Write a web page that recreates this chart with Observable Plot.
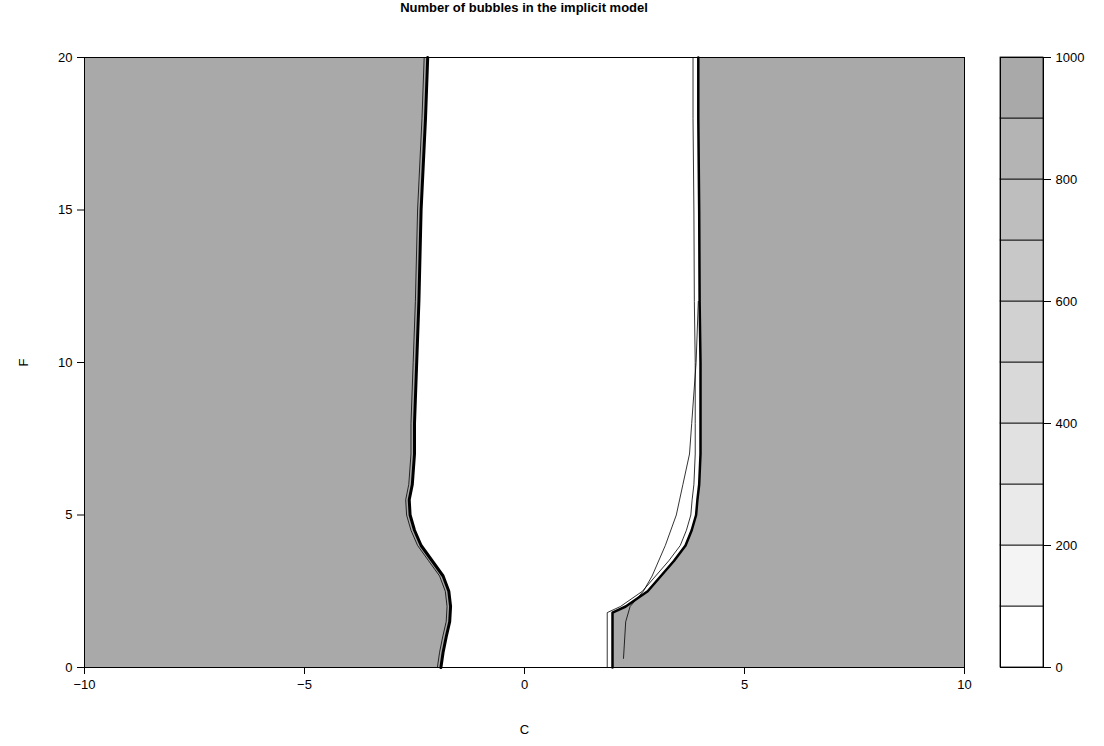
<!DOCTYPE html>
<html><head><meta charset="utf-8">
<script src="https://cdn.jsdelivr.net/npm/d3@7"></script>
<script src="https://cdn.jsdelivr.net/npm/@observablehq/plot@0.6"></script>
<style>
body{margin:0;background:#fff;font-family:"Liberation Sans",Arial,sans-serif}
#wrap{position:relative;width:1104px;height:746px}
#wrap>div{position:absolute;top:0}
#title{position:absolute;top:10px;left:0;width:1048px;text-align:center;font-weight:bold;font-size:13px}
svg text{font-size:13px !important}
</style></head><body>
<div id="wrap"><div id="main" style="left:0"></div><div id="leg" style="left:990px"></div><div id="title">Number of bubbles in the implicit model</div></div>
<script>
// left boundary of the white region (F, C)
const leftF = [0, 0.5, 1, 1.5, 2, 2.5, 3, 3.5, 4, 4.5, 5, 5.5, 6, 7, 8, 10, 12, 15, 18, 20]
const leftC = [-1.9, -1.85, -1.78, -1.7, -1.68, -1.72, -1.85, -2.1, -2.35, -2.5, -2.6, -2.62, -2.55, -2.5, -2.5, -2.45, -2.4, -2.35, -2.25, -2.2]
// right boundary (dense gray side)
const rightF = [0, 1, 1.8, 2, 2.5, 3, 3.5, 4, 4.5, 5, 5.5, 6, 7, 8, 10, 12, 15, 18, 20]
const rightC = [2.0, 2.0, 2.0, 2.3, 2.8, 3.1, 3.4, 3.66, 3.8, 3.9, 3.93, 3.97, 4.0, 4.0, 4.0, 3.98, 3.97, 3.95, 3.95]
// low-level contour on the right side
const innerF = [0.3, 1.5, 2, 2.5, 3, 4, 5, 6, 7, 8, 9, 10, 12]
const innerC = [2.25, 2.3, 2.4, 2.7, 2.9, 3.2, 3.45, 3.6, 3.75, 3.8, 3.85, 3.9, 3.95]
const levels = [0, 100, 200, 300, 400, 500, 600, 700, 800, 900, 1000]
const colors = ["#ffffff", "#f4f4f4", "#eaeaea", "#e1e1e1", "#d9d9d9", "#d1d1d1", "#c8c8c8", "#bebebe", "#b4b4b4", "#a9a9a9"]

const left = leftF.map((F, i) => ({F, C: leftC[i]}))
const right = rightF.map((F, i) => ({F, C: rightC[i]}))
const inner = innerF.map((F, i) => ({F, C: innerC[i]}))

const main = Plot.plot({
  width: 990, height: 746,
  marginLeft: 84, marginRight: 26, marginTop: 57, marginBottom: 79,
  style: {fontFamily: "Liberation Sans, Arial, sans-serif"},
  x: {domain: [-10, 10], ticks: [-10, -5, 0, 5, 10], tickFormat: d => d < 0 ? "\u2212" + (-d) : d, label: "C", labelAnchor: "center", labelArrow: "none", labelOffset: 66, tickSize: 7, tickPadding: 5},
  y: {domain: [0, 20], ticks: [0, 5, 10, 15, 20], label: "F", labelAnchor: "center", labelArrow: "none", labelOffset: 66, tickSize: 7, tickPadding: 5},
  marks: [
    Plot.areaX(left, {y: "F", x1: -10, x2: "C", fill: colors[9]}),
    Plot.areaX(right, {y: "F", x1: "C", x2: 10, fill: colors[9]}),
    Plot.line(inner, {x: "C", y: "F", stroke: "black", strokeWidth: 0.8}),
    Plot.line(left, {x: "C", y: "F", stroke: "black", strokeWidth: 3}),
    Plot.line(left, {x: d => d.C - 0.08, y: "F", stroke: "black", strokeWidth: 0.8}),
    Plot.line(right, {x: "C", y: "F", stroke: "black", strokeWidth: 2.5}),
    Plot.line(right, {x: d => d.C - 0.12, y: "F", stroke: "black", strokeWidth: 0.8}),
    Plot.frame({stroke: "black"})
  ]
})
document.getElementById("main").append(main)

const bands = colors.map((c, i) => ({lo: levels[i], hi: levels[i + 1], c}))
const leg = Plot.plot({
  width: 114, height: 746,
  marginLeft: 10, marginRight: 61, marginTop: 57, marginBottom: 79,
  style: {fontFamily: "Liberation Sans, Arial, sans-serif"},
  x: {axis: null, domain: [0, 1]},
  y: {domain: [0, 1000], ticks: [0, 200, 400, 600, 800, 1000], tickFormat: d => String(d), axis: "right", label: null, tickSize: 7, tickPadding: 5},
  marks: [
    Plot.rect(bands, {x1: 0, x2: 1, y1: "lo", y2: "hi", fill: "c", stroke: "black", strokeWidth: 0.8}),
    Plot.frame({stroke: "black"})
  ]
})
document.getElementById("leg").append(leg)
</script></body></html>
